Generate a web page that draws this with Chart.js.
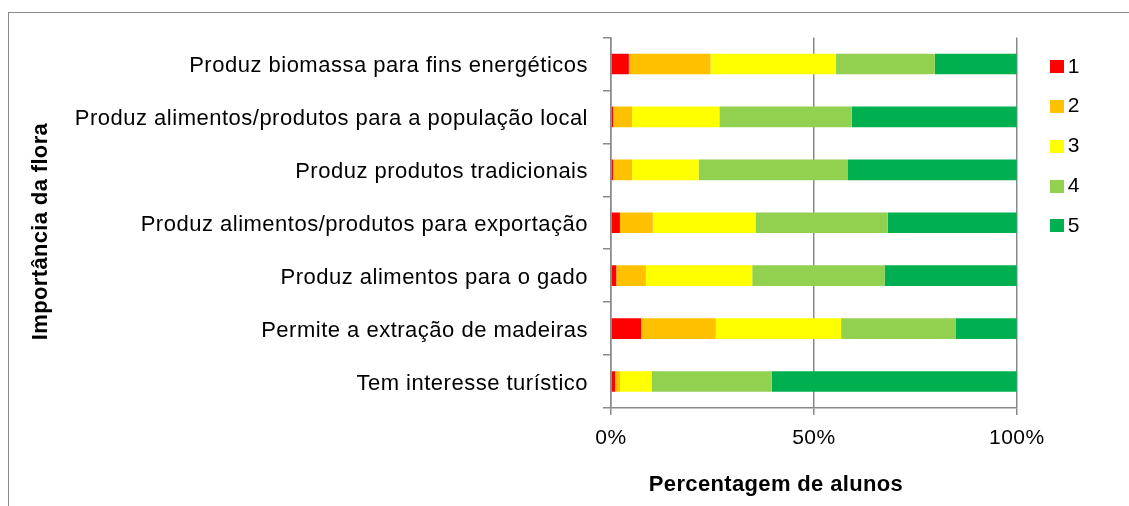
<!DOCTYPE html>
<html>
<head>
<meta charset="utf-8">
<script src="https://cdn.jsdelivr.net/npm/chart.js@4.4.1/dist/chart.umd.min.js"></script>
<style>
  html, body { margin: 0; padding: 0; background: #fff; }
  #wrap { position: relative; width: 1129px; height: 506px; overflow: hidden; }
  #frame { position: absolute; left: 8px; top: 12px; right: -5px; bottom: -5px;
           border-top: 1.5px solid #8a8a8a; border-left: 1.5px solid #8a8a8a; }
  canvas { position: absolute; left: 0; top: 0; }
</style>
</head>
<body>
<div id="wrap">
  <div id="frame"></div>
  <canvas id="c" width="1129" height="506"></canvas>
</div>
<script>
const categories = [
  'Produz biomassa para fins energéticos',
  'Produz alimentos/produtos para a população local',
  'Produz produtos tradicionais',
  'Produz alimentos/produtos para exportação',
  'Produz alimentos para o gado',
  'Permite a extração de madeiras',
  'Tem interesse turístico'
];
const seriesNames = ['1', '2', '3', '4', '5'];
const level1 = [4.4, 0.5, 0.5, 2.2, 1.3, 7.4, 1.0];
const level2 = [20.1, 4.7, 4.7, 8.1, 7.3, 18.4, 1.2];
const level3 = [30.9, 21.5, 16.4, 25.3, 26.2, 30.9, 7.8];
const level4 = [24.4, 32.6, 36.8, 32.6, 32.6, 28.3, 29.6];
const level5 = [20.2, 40.7, 41.6, 31.8, 32.6, 15.0, 60.4];
const xTickValues = [0, 50, 100];
const xTitle = 'Percentagem de alunos';
const yTitle = 'Importância da flora';

const colors = ['#FF0000', '#FFC000', '#FFFF00', '#92D050', '#00B050'];
const seriesValues = [level1, level2, level3, level4, level5];

function swatch(color) {
  const c = document.createElement('canvas');
  c.width = 14; c.height = 13;
  const g = c.getContext('2d');
  g.fillStyle = color; g.fillRect(0, 0, 14, 13);
  return c;
}

Chart.defaults.font.family = '"Liberation Sans", Arial, sans-serif';
Chart.defaults.color = '#000';

const GRID = '#8a8a8a';
const spacingPlugin = {
  id: 'spacing',
  beforeLayout(chart) { chart.ctx.letterSpacing = '0.5px'; },
  beforeDraw(chart) { chart.ctx.letterSpacing = '0.5px'; }
};
const titlesPlugin = {
  id: 'axisTitles',
  afterDraw(chart) {
    const ctx = chart.ctx;
    ctx.save();
    ctx.letterSpacing = '0.35px';
    ctx.fillStyle = '#000';
    ctx.font = 'bold 22px "Liberation Sans", Arial, sans-serif';
    ctx.textAlign = 'center';
    ctx.textBaseline = 'alphabetic';
    ctx.fillText(xTitle, 776, 491);
    ctx.translate(46.5, 231.5);
    ctx.rotate(-Math.PI / 2);
    ctx.fillText(yTitle, 0, 0);
    ctx.restore();
  }
};

new Chart(document.getElementById('c'), {
  type: 'bar',
  data: {
    labels: categories,
    datasets: seriesNames.map((name, i) => ({
      label: name,
      data: seriesValues[i],
      backgroundColor: colors[i],
      borderWidth: 0,
      pointStyle: swatch(colors[i]),
      barPercentage: 0.39,
      categoryPercentage: 1.0
    }))
  },
  options: {
    indexAxis: 'y',
    responsive: false,
    animation: false,
    devicePixelRatio: 1,
    layout: { padding: { left: 0, top: 37.5, right: 39, bottom: 38 } },
    plugins: {
      tooltip: { enabled: false },
      legend: {
        position: 'right',
        align: 'start',
        labels: {
          usePointStyle: true,
          pointStyleWidth: 1,
          padding: 18.75,
          font: { size: 21 },
          color: '#000'
        }
      }
    },
    scales: {
      x: {
        stacked: true,
        min: 0,
        max: 100,
        afterBuildTicks(s) { s.ticks = xTickValues.map(v => ({ value: v })); },
        ticks: { callback: v => v + '%', font: { size: 21 }, padding: 11, color: '#000' },
        grid: { color: GRID, lineWidth: 1.5, drawTicks: true, tickLength: 7, tickColor: GRID },
        border: { display: true, color: GRID, width: 1.5 },
        afterFit(s) { s.height = 60; }
      },
      y: {
        stacked: true,
        offset: true,
        ticks: { font: { size: 22 }, padding: 15, labelOffset: 2, color: '#000' },
        grid: { offset: true, drawOnChartArea: false, drawTicks: true, tickLength: 8, color: GRID, lineWidth: 1.5 },
        border: { display: true, color: GRID, width: 1.5 },
        afterFit(s) { s.width = 611; }
      },
      yRight: {
        type: 'category',
        position: 'right',
        display: true,
        ticks: { display: false },
        grid: { display: false, drawTicks: false },
        border: { display: false },
        afterFit(s) { s.width = 20.75; }
      }
    }
  },
  plugins: [spacingPlugin, titlesPlugin]
});
</script>
</body>
</html>
